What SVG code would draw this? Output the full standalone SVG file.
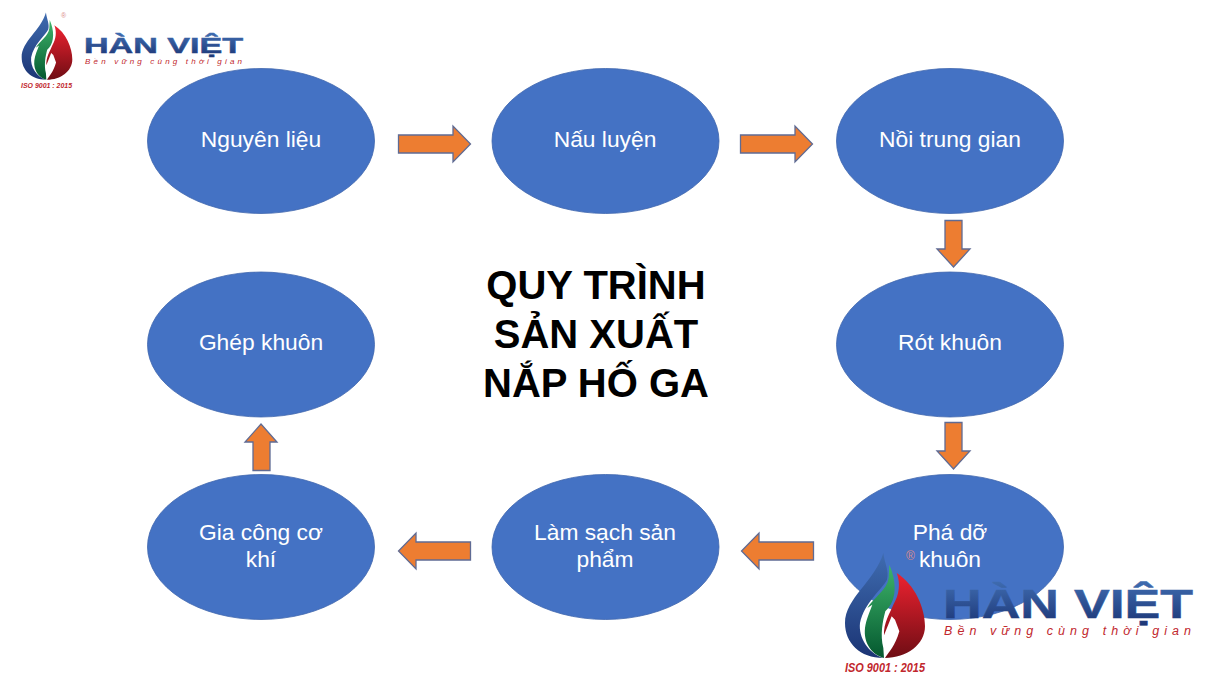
<svg xmlns="http://www.w3.org/2000/svg" width="1209" height="679" viewBox="0 0 1209 679">
<style>
.n{fill:#4472c4;stroke:#3f66ad;stroke-width:.8}
.a{fill:#ed7d31;stroke:#5f6b94;stroke-width:1.3}
.t{font-family:"Liberation Sans",Arial,sans-serif;font-size:22.800px;fill:#fff;text-anchor:middle}
.h{font-family:"Liberation Sans",Arial,sans-serif;font-size:40px;font-weight:700;fill:#000;text-anchor:middle}
.b{font-family:"Liberation Sans",Arial,sans-serif;font-weight:700;fill:url(#gb);stroke:url(#gb);stroke-width:.5}
.s{font-family:"Liberation Sans",Arial,sans-serif;font-style:italic;fill:#c1272d}
.i{font-family:"Liberation Sans",Arial,sans-serif;font-style:italic;font-weight:700;fill:#c1272d}
.r{font-family:"Liberation Sans",Arial,sans-serif;fill:#d98a8a}
</style>
<defs>
<linearGradient id="gb" x1="0" y1="0" x2="0" y2="1"><stop offset="0" stop-color="#3f6cb0"/><stop offset="1" stop-color="#1b3474"/></linearGradient>
<linearGradient id="gg" x1="0" y1="0" x2="0" y2="1"><stop offset="0" stop-color="#3fb56b"/><stop offset="1" stop-color="#04582f"/></linearGradient>
<linearGradient id="gr" x1="0" y1="0" x2="0" y2="1"><stop offset="0" stop-color="#ed2230"/><stop offset="1" stop-color="#6f0d14"/></linearGradient>
<g id="flame">
<path fill="url(#gb)" d="M130,15C135,50 148,70 141,95C125,125 72,165 60,225C55,270 85,315 130,330C60,330 15,285 15,225C15,150 105,100 130,15Z"/>
<path fill="url(#gg)" d="M148,50C170,100 170,150 145,180L136,190C128,220 120,260 130,300L132,330C95,320 70,285 75,240C78,215 90,190 97,170L82,180C100,150 142,125 146,90Z"/>
<path fill="url(#gr)" d="M170,75C225,110 255,180 255,235C255,290 200,330 135,330C148,310 165,295 178,250L165,215L155,205L132,262C130,225 150,195 160,170C178,140 182,105 170,75Z"/>
</g>
</defs>
<rect width="1209" height="679" fill="#fff"/>
<g id="n1"><ellipse class="n" cx="261" cy="141" rx="113.500" ry="72.500"/><text class="t" x="261" y="147">Nguyên liệu</text></g>
<g id="n2"><ellipse class="n" cx="605.500" cy="141" rx="113.500" ry="72.500"/><text class="t" x="605" y="147">Nấu luyện</text></g>
<g id="n3"><ellipse class="n" cx="950" cy="141" rx="113.500" ry="72.500"/><text class="t" x="950" y="147">Nồi trung gian</text></g>
<g id="n4"><ellipse class="n" cx="950" cy="344.500" rx="113.500" ry="72.500"/><text class="t" x="950" y="350">Rót khuôn</text></g>
<g id="n5"><ellipse class="n" cx="950" cy="547" rx="113.500" ry="72.500"/><text class="t" x="950" y="540">Phá dỡ</text><text class="t" x="950" y="567">khuôn</text></g>
<g id="n6"><ellipse class="n" cx="605.500" cy="547" rx="113.500" ry="72.500"/><text class="t" x="605" y="540">Làm sạch sản</text><text class="t" x="605" y="567">phẩm</text></g>
<g id="n7"><ellipse class="n" cx="261" cy="547" rx="113.500" ry="72.500"/><text class="t" x="261" y="540">Gia công cơ</text><text class="t" x="261" y="567">khí</text></g>
<g id="n8"><ellipse class="n" cx="261" cy="344.500" rx="113.500" ry="72.500"/><text class="t" x="261" y="350">Ghép khuôn</text></g>
<g id="connectors">
<path class="a" d="M398.500,135H453V126L470.500,144L453,162V153H398.500Z"/>
<path class="a" d="M740.500,135H795V126L812.500,144L795,162V153H740.500Z"/>
<path class="a" d="M945,220.500H962V249H970L953.500,267L937,249H945Z"/>
<path class="a" d="M945,422.500H962V451H970L953.500,469L937,451H945Z"/>
<path class="a" d="M813.500,542H759V533L741.500,551L759,569V560H813.500Z"/>
<path class="a" d="M470.500,542H416V533L398.500,551L416,569V560H470.500Z"/>
<path class="a" d="M253,470.500V442H245L261,424L277,442H270V470.500Z"/>
</g>
<g id="title"><text class="h" x="596" y="299">QUY TRÌNH</text><text class="h" x="596" y="348">SẢN XUẤT</text><text class="h" x="596" y="397">NẮP HỐ GA</text></g>
<g id="logo-small">
<use href="#flame" transform="translate(18.500,9.250) scale(.211,.2133)"/>
<text class="b" x="84" y="53" font-size="22" textLength="159" lengthAdjust="spacingAndGlyphs">HÀN VIỆT</text>
<text class="s" x="85" y="64" font-size="8" textLength="157" lengthAdjust="spacing">Bền vững cùng thời gian</text>
<text class="i" x="21" y="88" font-size="8" textLength="51" lengthAdjust="spacingAndGlyphs">ISO 9001 : 2015</text>
<text class="r" x="61" y="18" font-size="7">®</text>
</g>
<g id="logo-large">
<use href="#flame" transform="translate(840,548) scale(.3333)"/>
<text class="b" x="943" y="618" font-size="41" textLength="250" lengthAdjust="spacingAndGlyphs">HÀN VIỆT</text>
<text class="s" x="944" y="635" font-size="12.500" textLength="247" lengthAdjust="spacing">Bền vững cùng thời gian</text>
<text class="i" x="845" y="672" font-size="12" textLength="80" lengthAdjust="spacingAndGlyphs">ISO 9001 : 2015</text>
<text class="r" x="906" y="560" font-size="12">®</text>
</g>
</svg>
